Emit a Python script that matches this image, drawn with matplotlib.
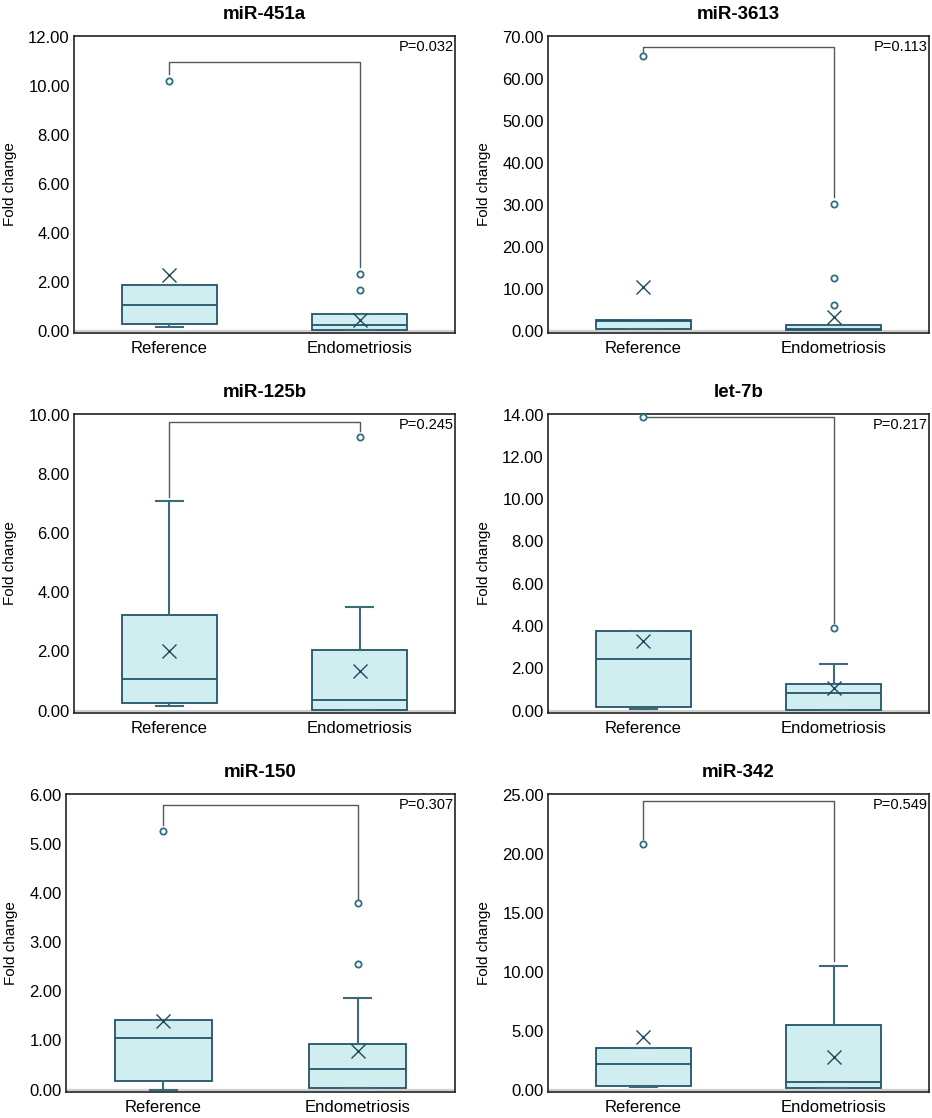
"""
Fold change box plots, reference vs endometriosis, six miRNAs.
"""

import matplotlib
matplotlib.use("Agg")
import matplotlib.pyplot as plt

plt.rcParams['font.family'] = ['Liberation Sans', 'DejaVu Sans']

groups = ['Reference', 'Endometriosis']
titles = ['miR-451a', 'miR-3613', 'miR-125b', 'let-7b', 'miR-150', 'miR-342']
p_values = ['P=0.032', 'P=0.113', 'P=0.245', 'P=0.217', 'P=0.307', 'P=0.549']
y_max = [12, 70, 10, 14, 6, 25]
y_step = [2, 10, 2, 2, 1, 5]

# box stats per panel: [reference, endometriosis]
q1 = [[0.27, 0.03], [0.32, 0.05], [0.25, 0.02], [0.19, 0.03], [0.18, 0.03], [0.34, 0.14]]
median = [[1.04, 0.22], [2.20, 0.30], [1.07, 0.36], [2.44, 0.84], [1.05, 0.41], [2.18, 0.68]]
q3 = [[1.86, 0.68], [2.45, 1.35], [3.23, 2.04], [3.75, 1.25], [1.41, 0.93], [3.54, 5.49]]
whis_lo = [[0.16, 0.03], [0.32, 0.05], [0.17, 0.02], [0.06, 0.03], [0.0, 0.03], [0.20, 0.14]]
whis_hi = [[1.86, 0.68], [2.45, 1.35], [7.09, 3.49], [3.75, 2.20], [1.41, 1.87], [3.54, 10.49]]
means = [[2.26, 0.45], [10.45, 3.30], [2.00, 1.35], [3.27, 1.06], [1.39, 0.79], [4.44, 2.80]]
outliers = [
    [[10.17], [2.30, 1.64]],
    [[65.3], [30.2, 12.6, 6.0]],
    [[], [9.25]],
    [[13.87], [3.89]],
    [[5.25], [3.79, 2.56]],
    [[20.8], []],
]
# bracket: height, left drop end, right drop end
bracket_y = [10.98, 67.6, 9.74, 13.87, 5.79, 24.49]
bracket_left = [10.48, 66.3, 7.22, 13.87, 5.39, 21.27]
bracket_right = [2.58, 31.8, 9.43, 4.13, 3.88, 10.86]

# axes rectangles in pixels: left, right, top, bottom
W, H = 932, 1118
ax_px = [
    (74, 455, 36, 333), (548, 929, 36, 333),
    (74, 455, 414, 713), (548, 929, 414, 713),
    (66, 455, 794, 1092), (548, 929, 794, 1092),
]

edge = '#24546a'
face = '#d0eef0'
whisk = '#3d6a7a'

fig = plt.figure(figsize=(W / 100, H / 100), dpi=100)

for i in range(6):
    l, r, t, b = ax_px[i]
    ax = fig.add_axes([l / W, 1 - b / H, (r - l) / W, (b - t) / H])

    stats = []
    for g in range(2):
        stats.append({
            'label': groups[g],
            'q1': q1[i][g], 'med': median[i][g], 'q3': q3[i][g],
            'whislo': whis_lo[i][g], 'whishi': whis_hi[i][g],
            'mean': means[i][g], 'fliers': outliers[i][g],
        })

    ax.axhline(0, color='#cfcfcf', lw=1.6, zorder=1)

    ax.plot([1, 1, 2, 2],
            [bracket_left[i], bracket_y[i], bracket_y[i], bracket_right[i]],
            color='#505a60', lw=1.0, zorder=2)

    ax.bxp(stats, positions=[1, 2], widths=0.5, capwidths=0.14,
           showmeans=True, patch_artist=True,
           boxprops=dict(facecolor=face, edgecolor=edge, linewidth=1.3),
           medianprops=dict(color=edge, linewidth=1.3),
           whiskerprops=dict(color=whisk, linewidth=1.5),
           capprops=dict(color=whisk, linewidth=1.5),
           meanprops=dict(marker='x', markeredgecolor='#1d4a5c',
                          markersize=10, markeredgewidth=1.0),
           flierprops=dict(marker='o', markerfacecolor='white',
                           markeredgecolor='#2f6e84', markersize=4.5,
                           markeredgewidth=1.3),
           zorder=3)

    span = y_max[i]
    ax.set_ylim(-0.008 * span, span * 1.002)
    ax.set_xlim(0.5, 2.5)
    ticks = [k * y_step[i] for k in range(int(round(y_max[i] / y_step[i])) + 1)]
    ax.set_yticks(ticks)
    ax.set_yticklabels([f"{v:.2f}" for v in ticks], fontsize=12)
    ax.set_xticks([1, 2])
    ax.set_xticklabels(groups, fontsize=12)
    ax.tick_params(length=0, pad=3)
    ax.tick_params(axis='x', pad=6)
    for s in ax.spines.values():
        s.set_color('#222222')
        s.set_linewidth(1.2)

    ax.set_ylabel('Fold change', fontsize=11, labelpad=8)
    ax.set_title(titles[i], fontsize=13.5, fontweight='bold', pad=12)
    ax.text(0.997, 0.985, p_values[i], transform=ax.transAxes,
            ha='right', va='top', fontsize=10.5)

fig.savefig('out.png', dpi=100)
